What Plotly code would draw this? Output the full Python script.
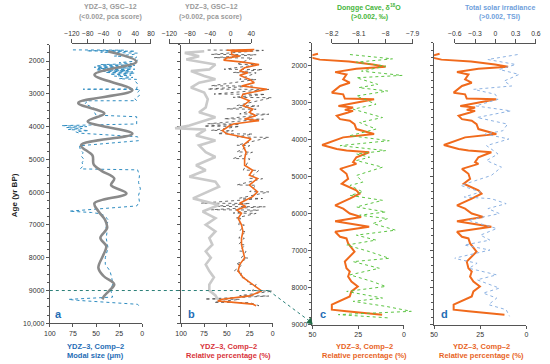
import plotly.graph_objects as go

W, H = 550, 364
def px(x): return x / W
def py(y): return 1 - y / H

# ---------------- Panel a ----------------
# Modal size (um) of YDZ-3 Comp-2 (blue dotted, bottom axis)
a_modal_age = [1660,1670,1690,1700,1730,1760,1800,1850,1880,1920,1960,2000,2050,2080,2110,2130,2150,2170,2190,2210,2230,2250,2270,2290,2310,2330,2350,2370,2400,2430,2460,2500,2540,2560,2600,2700,2850,2860,2870,2950,3050,3150,3210,3214,3250,3300,3350,3400,3450,3500,3650,3680,3700,3920,3970,4000,4030,4060,4090,4120,4160,4200,4310,4430,4585,4700,4800,4900,5000,5100,5200,5290,5320,5500,5700,5900,6100,6300,6420,6580,6620,6660,6700,6800,6880,7000,7190,7400,7700,8000,8200,8400,8600,8800,9000,9200,9270,9300,9420,9490]
a_modal_val = [75,20,60,8,45,5,10,30,6,8,5,6,25,8,45,8,50,10,52,12,48,8,50,15,45,10,40,8,35,12,30,10,25,6,8,5,6,64,2,5,3,8,6,64,60,62,58,55,52,53,50,7,6,6,87,60,82,65,80,58,72,68,5,4,68,67,64,66,63,65,64,67,5,3,4,2,4,3,6,79,55,45,42,38,36,40,38,39,37,40,40,35,33,32,34,32,80,70,5,3]
# GSC-12 (<0.002) pca score (grey smooth, top axis)
a_pca_age = [1712,2020,2420,2890,3280,3600,3840,4220,4570,4880,5150,5350,5583,5786,6037,6340,6582,6845,7096,7398,7650,7903,8306,8557,8810,9011,9162,9270]
a_pca_val = [-28,43,-63,33,-104,-38,-80,33,-97,-68,-65,-45,-13,-21,18,-63,-53,-36,-31,-48,-33,-40,-53,-40,-13,-26,-38,-43]

# ---------------- Panel b ----------------
b_pca_age = [1702,1752,1853,1954,2105,2256,2307,2459,2559,2659,2810,2962,3164,3415,3566,3717,3970,4050,4093,4274,4425,4576,4777,4928,5180,5331,5532,5683,5835,6189,6391,6592,6794,6996,7196,7399,7601,7802,8004,8206,8406,8600,8820,9000,9150,9280]
b_pca_val = [-52,-90,-62,-87,-30,-42,-78,-52,-30,-62,-78,-52,-45,-49,-62,-30,-81,-109,-49,-68,-30,-62,-49,-30,-68,-49,-81,-30,-23,-74,-23,-55,-30,-49,-30,-42,-36,-49,-39,-49,-42,-33,-42,-42,-30,-25]
b_pct_age = [1650,1670,1690,1710,1802,1853,1903,1974,2035,2105,2206,2307,2357,2438,2558,2659,2760,2861,3012,3113,3214,3365,3466,3567,3667,3768,3819,3920,3990,4121,4222,4323,4373,4575,4777,4978,5180,5331,5482,5583,5785,5987,6138,6340,6440,6541,6642,6794,6995,7197,7399,7601,7802,8004,8206,8408,8609,8811,9012,9163,9264,9315,9415,9466]
b_pct_val = [20,50,22,45,44.7,36,50,53.5,32.4,14.8,30.6,36,27,36,25.4,20,34,6,32.4,34,25.4,32.4,21.8,25.4,18.3,30.6,14.8,43,48,55,50,30.6,23.6,32.4,29,30.6,30.6,21.8,25.4,16.5,25.4,16.5,21.8,36,29,39.4,34,37.7,34,32.4,34,34,32.4,30.6,36,37.7,32,22,12,25,55,60,22,18]
b_raw_age = [1665,1675,1798,1808,1898,1908,2100,2110,2251,2261,2352,2362,2553,2563,2755,2765,2856,2866,3007,3017,3108,3118,3360,3370,3461,3471,3612,3622,3763,3773,3915,3925,3985,3995,4116,4126,4217,4227,4318,4328,4570,4580,4772,4782,4973,4983,5326,5336,5578,5588,5780,5790,5982,5992,6183,6193,6335,6345,6435,6445,6536,6546,6637,6647,6789,6799,6990,7000,7192,7202,7394,7404,7596,7606,7797,7807,7999,8009,8201,8211,8403,8413,8604,8614,8806,8816,9007,9017,9158,9168,9259,9269,9360,9370,9461,9471]
b_raw_val = [71,10,67,18,64,22,39,15,53,11,43,18,36,18,67,22,71,4,64,8,43,1,39,15,50,18,36,4,53,10,71,36,75,36,67,43,60,22,39,4,39,25,39,22,43,25,32,15,25,11,39,18,25,4,36,11,78,25,64,8,67,15,43,18,40,35,37,31,36,29,37,31,37,30,36,29,34,27,40,33,42,34,35,29,26,18,22,0,36,4,74,36,64,25,15,18]

# ---------------- Panels c & d ----------------
cd_pct_age = [1690,1730,1770,1850,1900,1980,2044,2098,2187,2250,2383,2473,2562,2741,2786,2902,2920,3099,3144,3206,3233,3278,3367,3456,3500,3590,3724,3858,3948,4153,4260,4305,4350,4484,4618,4663,4797,4931,5065,5199,5289,5378,5468,5602,5781,5870,6004,6094,6210,6362,6496,6630,6675,6809,7032,7166,7301,7480,7569,7703,7837,7971,8105,8239,8463,8597,8642,8731]
cd_pct_val = [47,51,53,46,30,17,10,26,37.6,31.4,33.2,29.6,34.9,39.4,33.2,32.3,16.3,35.8,27.8,32.3,27.8,30.5,36.7,34.9,29.6,27,26,16.3,33.2,44.7,36.7,31.4,19,26,27.8,26,34.9,31.4,30.5,34,29.6,26,24.3,29.6,37.6,33.2,29.6,23.4,37.6,19,37.6,34.9,31.4,30.5,27,29.6,32.3,31.4,29.6,30.5,28.7,25.2,28.7,29.6,39.4,39.4,31.4,11.9]
c_d18o_age = [1713,1829,1919,2026,2160,2276,2339,2517,2607,2697,2831,3054,3188,3412,3546,3724,3903,4037,4171,4305,4395,4484,4573,4752,4976,5155,5244,5423,5513,5647,5826,5960,6049,6139,6273,6452,6586,6720,6854,7032,7211,7301,7480,7658,7837,7971,8105,8284,8373,8507,8642,8731,8820]
c_d18o_val = [-8.133,-7.975,-8.109,-8.0,-8.09,-7.939,-8.109,-8.03,-8.1,-7.993,-8.109,-8.036,-8.121,-8.012,-8.097,-8.036,-8.133,-7.987,-8.17,-8.0,-8.109,-8.06,-8.109,-8.012,-8.109,-8.085,-8.133,-8.085,-8.133,-8.012,-8.109,-8.0,-8.097,-7.993,-8.048,-7.963,-8.109,-8.036,-8.145,-8.06,-7.987,-8.121,-8.024,-8.133,-8.05,-8.0,-8.145,-8.012,-8.121,-8.0,-7.905,-8.176,-7.987]
d_tsi_age = [1713,1847,1981,2115,2250,2428,2562,2652,2786,2920,3099,3233,3412,3590,3769,3858,3992,4171,4395,4573,4752,4976,5244,5423,5557,5602,5736,5870,6004,6183,6407,6586,6720,6854,6988,7211,7345,7480,7658,7792,8016,8150,8284,8463,8597,8776]
d_tsi_val = [0.33,-0.11,0.30,0.06,0.35,0.13,0.24,-0.32,0.0,0.04,-0.29,0.23,-0.27,0.18,0.11,-0.15,0.2,-0.13,0.04,-0.13,0.09,-0.06,-0.51,-0.22,-0.46,-0.06,0.16,-0.11,0.06,-0.4,0.02,-0.22,-0.08,-0.46,-0.08,-0.61,-0.27,-0.39,0.02,-0.27,0.06,-0.18,0.02,-0.1,0.16,0.21]

ab_yticks = [2000,3000,4000,5000,6000,7000,8000,9000,10000]
ab_ytext = ['2000','3000','4000','5000','6000','7000','8000','9000','10,000']
cd_yticks = [2000,3000,4000,5000,6000,7000,8000,9000]
pct_ticks = [100,75,50,25,0]
cd_pct_ticks = [50,25,0]
a_top_ticks = [-120,-80,-40,0,40,80]
b_top_ticks = [-120,-80,-40,0,40]
c_top_ticks = [-8.2,-8.1,-8.0,-7.9]
c_top_text = ['−8.2','−8.1','−8','−7.9']
d_top_ticks = [-0.6,-0.3,0,0.3,0.6]

ORANGE = '#f06a1c'
GREY_D = '#8a8a8a'
GREY_L = '#cacaca'
BLUE_A = '#2f8cc0'
GREEN = '#5cc443'
BLUE_T = '#8db2e2'
LBL_BLUE = '#1f6db5'
AX = '#555555'
TXT = '#333333'
FONT = 'Arial, Liberation Sans, sans-serif'

fig = go.Figure()
# panel a
fig.add_trace(go.Scatter(x=a_modal_val, y=a_modal_age, xaxis='x', yaxis='y', mode='lines',
                         line=dict(color=BLUE_A, width=1, dash='dot')))
fig.add_trace(go.Scatter(x=a_pca_val, y=a_pca_age, xaxis='x2', yaxis='y', mode='lines',
                         line=dict(color=GREY_D, width=2.6, shape='spline', smoothing=1.0)))
# panel b
fig.add_trace(go.Scatter(x=b_pca_val, y=b_pca_age, xaxis='x4', yaxis='y2', mode='lines',
                         line=dict(color=GREY_L, width=2.6)))
fig.add_trace(go.Scatter(x=b_raw_val, y=b_raw_age, xaxis='x3', yaxis='y2', mode='lines',
                         line=dict(color='#444444', width=0.8, dash='dot')))
fig.add_trace(go.Scatter(x=b_pct_val, y=b_pct_age, xaxis='x3', yaxis='y2', mode='lines',
                         line=dict(color=ORANGE, width=1.6)))
# panel c
fig.add_trace(go.Scatter(x=c_d18o_val, y=c_d18o_age, xaxis='x6', yaxis='y3', mode='lines',
                         line=dict(color=GREEN, width=1, dash='dot')))
fig.add_trace(go.Scatter(x=cd_pct_val, y=cd_pct_age, xaxis='x5', yaxis='y3', mode='lines',
                         line=dict(color=ORANGE, width=2)))
# panel d
fig.add_trace(go.Scatter(x=d_tsi_val, y=d_tsi_age, xaxis='x8', yaxis='y4', mode='lines',
                         line=dict(color=BLUE_T, width=1, dash='dot')))
fig.add_trace(go.Scatter(x=cd_pct_val, y=cd_pct_age, xaxis='x7', yaxis='y4', mode='lines',
                         line=dict(color=ORANGE, width=2)))

tickfont = dict(family=FONT, size=7, color=TXT)
def bottom_x(dom, rng, tv, yname):
    return dict(domain=dom, range=rng, anchor=yname, showline=True, linecolor=AX, linewidth=1,
                ticks='outside', ticklen=3, tickcolor=AX, tickvals=tv, tickfont=tickfont,
                tickangle=0, showgrid=False, zeroline=False)
def top_x(dom, rng, tv, pos, tt=None):
    d = dict(domain=dom, range=rng, anchor='free', position=pos, side='top', showline=True,
             linecolor=AX, linewidth=1, ticks='outside', ticklen=4, tickcolor=AX, tickvals=tv,
             tickfont=dict(family=FONT, size=6.8, color=TXT), tickangle=0,
             showgrid=False, zeroline=False)
    if tt: d['ticktext'] = tt
    return d
def yax(dom, rng, xname, labels, tv=None, tt=None, minor=250):
    d = dict(domain=dom, range=rng, anchor=xname, showline=True, linecolor=AX, linewidth=1,
             ticks='outside', ticklen=3, tickcolor=AX, showgrid=False, zeroline=False,
             tickvals=tv, showticklabels=labels, tickfont=tickfont,
             minor=dict(dtick=minor, ticks='outside', ticklen=2, tickcolor=AX, tick0=0))
    if tt: d['ticktext'] = tt
    return d

ab_dom = [py(326), py(45)]
cd_dom = [py(327.3), py(43.3)]
top_pos = py(43)

fig.update_layout(
    width=W, height=H, margin=dict(l=0, r=0, t=0, b=0),
    paper_bgcolor='white', plot_bgcolor='rgba(0,0,0,0)', showlegend=False,
    font=dict(family=FONT, color=TXT), hovermode=False,
    xaxis=bottom_x([px(43), px(138)], [100, 0], pct_ticks, 'y'),
    xaxis2=top_x([px(65.7), px(147)], [-120, 80], a_top_ticks, top_pos),
    xaxis3=bottom_x([px(178), px(272)], [100, 0], pct_ticks, 'y2'),
    xaxis4=top_x([px(166), px(250)], [-120, 40], b_top_ticks, top_pos),
    xaxis5=bottom_x([px(313), px(407)], [50, 0], cd_pct_ticks, 'y3'),
    xaxis6=top_x([px(333), px(416)], [-8.2, -7.9], c_top_ticks, top_pos, c_top_text),
    xaxis7=bottom_x([px(438), px(533)], [50, 0], cd_pct_ticks, 'y4'),
    xaxis8=top_x([px(459.3), px(542.7)], [-0.6, 0.6], d_top_ticks, top_pos),
    yaxis=yax(ab_dom, [10000, 1500], 'x', True, ab_yticks, ab_ytext),
    yaxis2=yax(ab_dom, [10000, 1500], 'x3', False, ab_yticks),
    yaxis3=yax(cd_dom, [9000, 1400], 'x5', True, cd_yticks, minor=200),
    yaxis4=yax(cd_dom, [9000, 1400], 'x7', False, cd_yticks, minor=200),
)

# connector at 9000 yr BP
TEAL = '#2b7f78'
fig.add_shape(type='line', xref='paper', yref='y', x0=px(43), x1=px(268), y0=9000, y1=9000,
              line=dict(color=TEAL, width=1, dash='dot'))
fig.add_shape(type='line', xref='paper', yref='paper', x0=px(268), y0=py(293), x1=px(309), y1=py(323),
              line=dict(color=TEAL, width=1, dash='dot'))
tip_x, tip_y = 313, 327
fig.add_shape(type='path', xref='paper', yref='paper',
              path='M %f %f L %f %f L %f %f Z' % (px(tip_x), py(tip_y), px(tip_x - 6), py(tip_y - 1.5),
                                                 px(tip_x - 2), py(tip_y - 6.5)),
              fillcolor='#1e6b45', line=dict(color='#1e6b45', width=0.5))

def note(x, y, text, color, size=7, bold=True):
    fig.add_annotation(x=px(x), y=py(y), xref='paper', yref='paper', showarrow=False,
                       text=('<b>%s</b>' % text) if bold else text,
                       font=dict(family=FONT, size=size, color=color), xanchor='center', yanchor='middle')

GT = '#9a9a9a'
note(105, 7.5, 'YDZ–3, GSC–12', GT)
note(105, 17, '(&lt;0.002, pca score)', GT)
note(209, 7.5, 'YDZ–3, GSC–12', GT)
note(208, 17, '(&gt;0.002, pca score)', GT)
note(371, 7.5, 'Dongge Cave, δ<sup>18</sup>O', '#45b53a')
note(372, 17, '(&gt;0.002, ‰)', '#45b53a')
note(506, 7.5, 'Total solar irradiance', '#6f9fdc')
note(505, 17, '(&gt;0.002, TSI)', '#6f9fdc')

note(90, 349, 'YDZ–3, Comp–2', LBL_BLUE, 7.5)
note(90, 358, 'Modal size (μm)', LBL_BLUE, 7.5)
note(227, 349, 'YDZ–3, Comp–2', '#d8333a', 7.5)
note(227, 358, 'Relative percentage (%)', '#d8333a', 7.5)
note(367, 349, 'YDZ–3, Comp–2', '#e8641e', 7.5)
note(367, 358, 'Relative percentage (%)', '#e8641e', 7.5)
note(487, 349, 'YDZ–3, Comp–2', '#e8641e', 7.5)
note(487, 358, 'Relative percentage (%)', '#e8641e', 7.5)

for lx, lt in [(52, 'a'), (189, 'b'), (324, 'c'), (449, 'd')]:
    note(lx, 317, lt, LBL_BLUE, 11)

fig.add_annotation(x=px(7), y=py(197), xref='paper', yref='paper', showarrow=False,
                   text='<b>Age (yr BP)</b>', textangle=-90,
                   font=dict(family=FONT, size=8, color='#222'), xanchor='center', yanchor='middle')

fig.write_html('out.html', config={'displayModeBar': False, 'staticPlot': True},
               post_script="document.body.style.margin='0';document.body.style.overflow='hidden';")
